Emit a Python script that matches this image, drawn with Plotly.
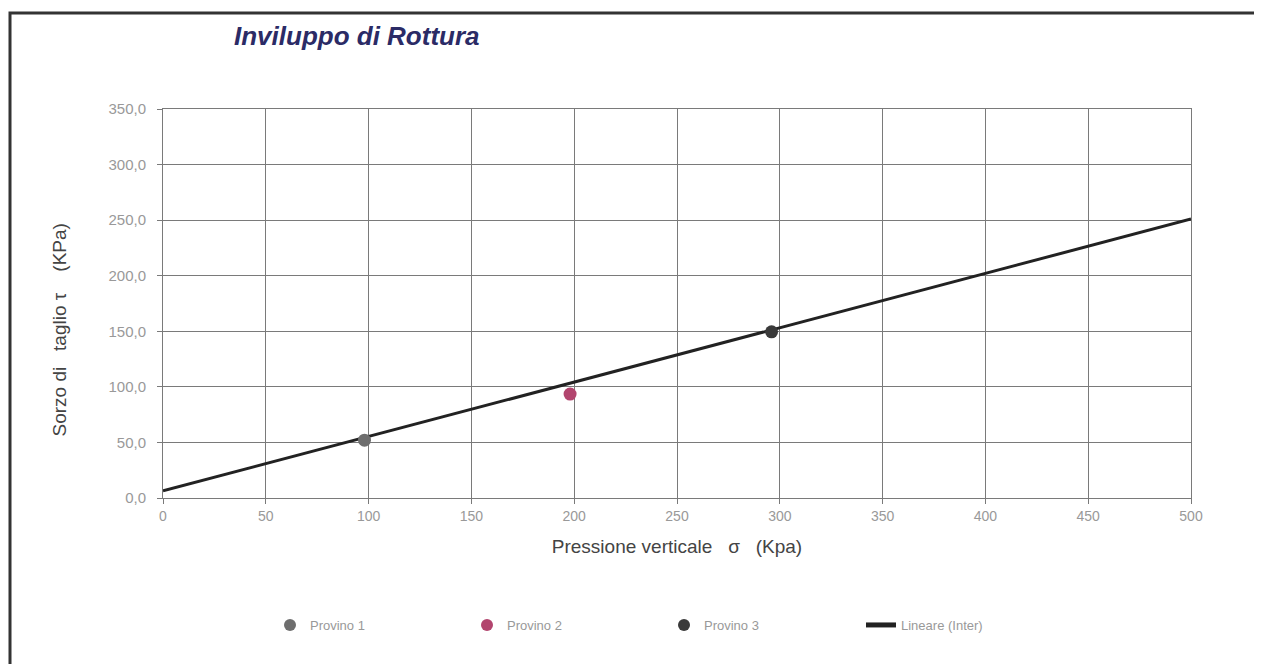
import plotly.graph_objects as go

# Data
series_names = ["Provino 1", "Provino 2", "Provino 3"]
sigma = [98, 198, 296]
tau = [52, 93.5, 149.5]
marker_colors = ["#6e6e6e", "#b2456e", "#3a3a3a"]

trend_x = [0, 500]
trend_y = [6.5, 251]
trend_name = "Lineare (Inter)"

x_ticks = [0, 50, 100, 150, 200, 250, 300, 350, 400, 450, 500]
y_ticks = [0, 50, 100, 150, 200, 250, 300, 350]

fig = go.Figure()
fig.add_trace(go.Scatter(x=trend_x, y=trend_y, mode="lines", name=trend_name,
                         line=dict(color="#222222", width=3), showlegend=True,
                         legendrank=4))
for i, n in enumerate(series_names):
    fig.add_trace(go.Scatter(x=[sigma[i]], y=[tau[i]], mode="markers", name=n,
                             marker=dict(color=marker_colors[i], size=13,
                                         symbol="circle"),
                             legendrank=i + 1))

OFF = 8  # page body margin
W, H = 1262, 664
L, T = 163 - OFF, 109 - OFF
R = W - 1191 + OFF
B = H - 498 + OFF
pw = W - L - R
ph = H - T - B

def px(x):
    return (x - OFF - L) / pw

def py(y):
    return (H - B - (y - OFF)) / ph

fig.update_layout(
    width=W, height=H,
    margin=dict(l=L, r=R, t=T, b=B),
    paper_bgcolor="white", plot_bgcolor="white",
    separators=",.",
    font=dict(family="Liberation Sans, Arial, sans-serif", color="#555555"),
    showlegend=True,
    legend=dict(orientation="h", x=px(270), y=py(610), xanchor="left", yanchor="top",
                entrywidth=152, entrywidthmode="pixels",
                font=dict(size=13, color="#999999"), bgcolor="rgba(0,0,0,0)",
                traceorder="normal", itemsizing="constant"),
    xaxis=dict(range=[0, 500], tickvals=x_ticks, showgrid=True, gridcolor="#7a7a7a",
               gridwidth=1, zeroline=False, showline=True, linecolor="#7a7a7a",
               mirror=True, ticks="outside", ticklen=5, tickcolor="#7a7a7a",
               tickfont=dict(size=14, color="#999999"),
               title=dict(text="Pressione verticale   σ   (Kpa)", standoff=16,
                          font=dict(size=19, color="#444444"))),
    yaxis=dict(range=[0, 350], tickvals=y_ticks, tickformat=".1f", showgrid=True,
               gridcolor="#7a7a7a", gridwidth=1, zeroline=False, showline=True,
               linecolor="#7a7a7a", mirror=True, ticks="outside", ticklen=5,
               tickcolor="#7a7a7a", tickfont=dict(size=15, color="#999999"),
               ticklabelstandoff=8),
)

fig.add_annotation(text="Sorzo di   taglio τ    (KPa)", xref="paper", yref="paper",
                   x=px(46), y=py(330), textangle=-90, showarrow=False,
                   font=dict(size=19, color="#444444"))
fig.add_annotation(text="<b><i>Inviluppo di Rottura</i></b>", xref="paper", yref="paper",
                   x=px(232), y=py(36), xanchor="left", yanchor="middle", showarrow=False,
                   font=dict(size=26, color="#2b2b66"))
fig.add_shape(type="rect", xref="paper", yref="paper",
              x0=px(10), x1=px(1256), y0=py(700), y1=py(13),
              line=dict(color="#333333", width=3), layer="below")

fig.write_html("out.html")
